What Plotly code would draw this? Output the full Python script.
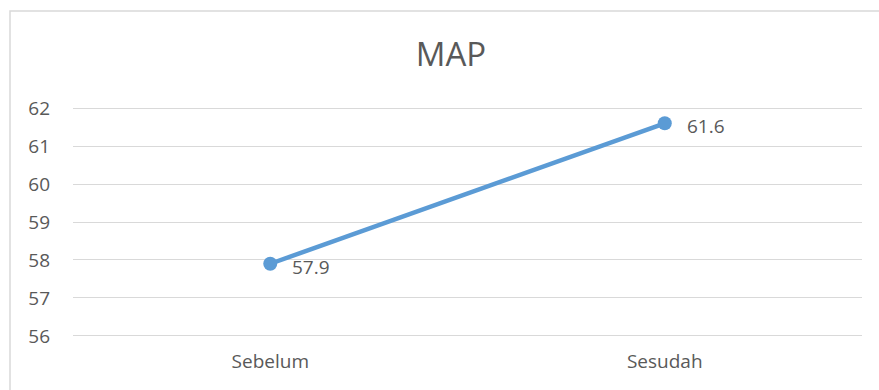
import plotly.graph_objects as go

# Mean arterial pressure before and after
categories = ["Sebelum", "Sesudah"]
map_values = [57.9, 61.6]
y_ticks = [56, 57, 58, 59, 60, 61, 62]

W, H = 879, 390
M_L, M_R, M_T, M_B = 73, 17, 107, 53
TEXT = "#595959"
GRID = "#d9d9d9"
BLUE = "#5b9bd5"
FONT = "Open Sans"

fig = go.Figure()
fig.add_trace(go.Scatter(
    x=categories, y=map_values, mode="lines+markers",
    line=dict(color=BLUE, width=4.5),
    marker=dict(color=BLUE, size=14),
    hoverinfo="skip", showlegend=False,
))

# value labels to the right of each point
for c, v in zip(categories, map_values):
    fig.add_annotation(
        x=c, y=v, text=f"{v:g}", showarrow=False,
        xanchor="left", yanchor="middle", xshift=20, yshift=-3,
        font=dict(family=FONT, size=19, color=TEXT),
    )

# chart area frame
pw = W - M_L - M_R
ph = H - M_T - M_B
fig.add_shape(
    type="rect", xref="paper", yref="paper",
    x0=(10 - M_L) / pw, x1=(W + 10 - M_L) / pw,
    y0=(H - M_B - (H + 10)) / ph, y1=(H - M_B - 11) / ph,
    line=dict(color=GRID, width=1.5), fillcolor="rgba(0,0,0,0)", layer="below",
)

fig.update_layout(
    width=W, height=H,
    margin=dict(l=M_L, r=M_R, t=M_T, b=M_B),
    paper_bgcolor="white", plot_bgcolor="white",
    font=dict(family=FONT, color=TEXT),
    title=dict(
        text="MAP", x=451 / W, xanchor="center",
        y=1 - 54 / H, yanchor="middle", yref="container",
        font=dict(family=FONT, size=33, color=TEXT),
    ),
    xaxis=dict(
        type="category", range=[-0.5, 1.5],
        showgrid=False, zeroline=False, showline=False, ticks="",
        tickfont=dict(family=FONT, size=19, color=TEXT),
        ticklabelstandoff=11,
    ),
    yaxis=dict(
        range=[55.97, 62.03], tickvals=y_ticks,
        showgrid=True, gridcolor=GRID, gridwidth=1,
        zeroline=False, showline=False, ticks="",
        tickfont=dict(family=FONT, size=19, color=TEXT),
        ticklabelstandoff=22,
    ),
)

fig.write_html("out.html")
